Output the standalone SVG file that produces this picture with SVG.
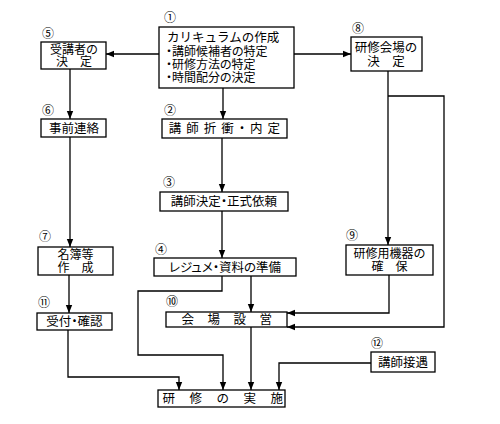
<svg xmlns="http://www.w3.org/2000/svg" width="500" height="424" viewBox="0 0 500 424">
<style>
.b{fill:#fff;stroke:#000;stroke-width:1.3}
.t{font-family:"Noto Sans CJK JP","Liberation Sans",sans-serif;font-size:12.5px;fill:#000}
.s{font-size:12px}
.p{font-feature-settings:"palt"}
.m{text-anchor:middle}
.n{font-family:"Noto Sans CJK JP","Liberation Sans",sans-serif;font-size:12px;fill:#000;text-anchor:middle}
.c{fill:none;stroke:#000;stroke-width:1.3}
</style>
<defs>
<marker id="a" markerUnits="userSpaceOnUse" markerWidth="8" markerHeight="8" viewBox="0 0 8 8" refX="8" refY="4" orient="auto">
<path d="M0,0.8 L8,4 L0,7.2 Z" fill="#000"/>
</marker>
</defs>
<rect width="500" height="424" fill="#fff"/>
<g id="connectors">
<path class="c" d="M159,54 H106" marker-end="url(#a)"/>
<path class="c" d="M294,54 H351" marker-end="url(#a)"/>
<path class="c" d="M223,88 V119" marker-end="url(#a)"/>
<path class="c" d="M70,69 V119" marker-end="url(#a)"/>
<path class="c" d="M70,137 V247" marker-end="url(#a)"/>
<path class="c" d="M222,138 V192" marker-end="url(#a)"/>
<path class="c" d="M222,211 V258" marker-end="url(#a)"/>
<path class="c" d="M388,71 V245" marker-end="url(#a)"/>
<path class="c" d="M388,96 H444 V327 H287" marker-end="url(#a)"/>
<path class="c" d="M389,275 V313 H287" marker-end="url(#a)"/>
<path class="c" d="M251,276 V312" marker-end="url(#a)"/>
<path class="c" d="M222,276 V291 H138 V355 H223 V390" marker-end="url(#a)"/>
<path class="c" d="M69,275 V313" marker-end="url(#a)"/>
<path class="c" d="M68,330 V377 H179 V390" marker-end="url(#a)"/>
<path class="c" d="M251,327 V390" marker-end="url(#a)"/>
<path class="c" d="M371,363 H279 V390" marker-end="url(#a)"/>
</g>
<g id="n1">
<text class="n" x="170" y="22">①</text>
<rect class="b" x="159" y="27" width="135" height="61"/>
<text class="t" x="167" y="42">カリキュラムの作成</text>
<text class="t s p" x="166" y="56">・講師候補者の特定</text>
<text class="t s p" x="166" y="69">・研修方法の特定</text>
<text class="t s p" x="166" y="82">・時間配分の決定</text>
</g>
<g id="n5">
<text class="n" x="48" y="38">⑤</text>
<rect class="b" x="41" y="42" width="65" height="27"/>
<text class="t s m" x="74" y="54">受講者の</text>
<text class="t s m" x="74" y="66">決　定</text>
</g>
<g id="n8">
<text class="n" x="358" y="33">⑧</text>
<rect class="b" x="351" y="37" width="71" height="34"/>
<text class="t m" x="386" y="52">研修会場の</text>
<text class="t m" x="386" y="66">決　定</text>
</g>
<g id="n6">
<text class="n" x="48" y="115">⑥</text>
<rect class="b" x="41" y="119" width="65" height="18"/>
<text class="t m" x="74" y="133">事前連絡</text>
</g>
<g id="n2">
<text class="n" x="170" y="115">②</text>
<rect class="b" x="162" y="119" width="125" height="19"/>
<text class="t m p" x="227" y="133" letter-spacing="5">講師折衝・内定</text>
</g>
<g id="n3">
<text class="n" x="169" y="187">③</text>
<rect class="b" x="160" y="192" width="128" height="19"/>
<text class="t m p" x="224" y="206">講師決定・正式依頼</text>
</g>
<g id="n7">
<text class="n" x="45" y="241">⑦</text>
<rect class="b" x="38" y="247" width="75" height="28"/>
<text class="t s m" x="75.5" y="259">名簿等</text>
<text class="t s m" x="75.5" y="272">作　成</text>
</g>
<g id="n4">
<text class="n" x="161" y="254">④</text>
<rect class="b" x="154" y="258" width="142" height="18"/>
<text class="t m p" x="225" y="272">レジュメ・資料の準備</text>
</g>
<g id="n9">
<text class="n" x="352" y="240">⑨</text>
<rect class="b" x="346" y="245" width="87" height="30"/>
<text class="t s m" x="389.5" y="258">研修用機器の</text>
<text class="t s m" x="389.5" y="271">確　保</text>
</g>
<g id="n11">
<text class="n" x="44" y="307">⑪</text>
<rect class="b" x="37" y="313" width="75" height="17"/>
<text class="t m p" x="74.5" y="326">受付・確認</text>
</g>
<g id="n10">
<text class="n" x="172" y="306">⑩</text>
<rect class="b" x="166" y="312" width="121" height="15"/>
<text class="t m" x="233.5" y="324" letter-spacing="13.5">会場設営</text>
</g>
<g id="n12">
<text class="n" x="377" y="348">⑫</text>
<rect class="b" x="371" y="352" width="64" height="20"/>
<text class="t m" x="403" y="367">講師接遇</text>
</g>
<g id="n13">
<rect class="b" x="158" y="390" width="127" height="17"/>
<text class="t m" x="230" y="403" letter-spacing="14.5">研修の実施</text>
</g>
</svg>
